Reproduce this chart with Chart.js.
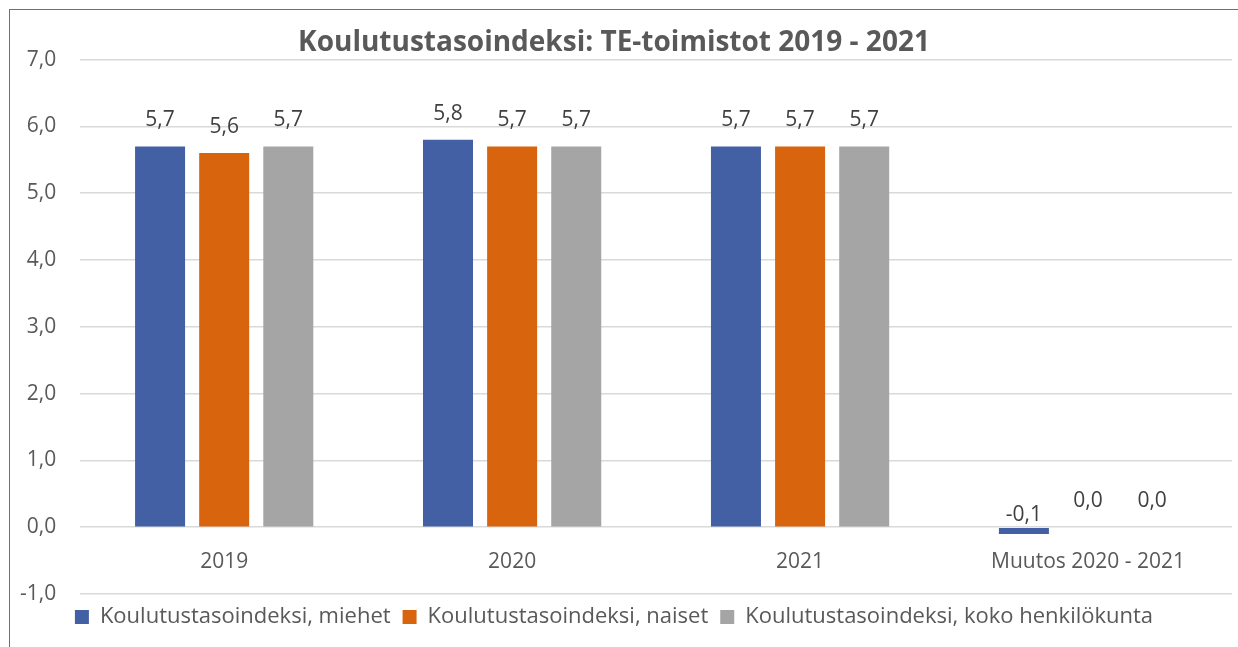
<!DOCTYPE html>
<html>
<head>
<meta charset="utf-8">
<script src="https://cdn.jsdelivr.net/npm/chart.js@4/dist/chart.umd.min.js"></script>
<style>
  html, body { margin: 0; padding: 0; background: #fff; }
  #wrap { position: relative; width: 1238px; height: 647px; }
  #frame { position: absolute; left: 9px; top: 9px; right: 0; bottom: 0; border-left: 1.5px solid #707070; border-top: 1.5px solid #707070; pointer-events: none; }
  canvas { position: absolute; left: 0; top: 0; }
</style>
</head>
<body>
<div id="wrap">
  <canvas id="c" width="1238" height="647"></canvas>
  <div id="frame"></div>
</div>
<script>
const title = 'Koulutustasoindeksi: TE-toimistot 2019 - 2021';
const categories = ['2019', '2020', '2021', 'Muutos 2020 - 2021'];
const seriesNames = ['Koulutustasoindeksi, miehet', 'Koulutustasoindeksi, naiset', 'Koulutustasoindeksi, koko henkilökunta'];
const miehet = [5.7, 5.8, 5.7, -0.1];
const naiset = [5.6, 5.7, 5.7, 0.0];
const koko = [5.7, 5.7, 5.7, 0.0];
const colors = ['#4360A5', '#D9640E', '#A5A5A5'];
const yMin = -1, yMax = 7, yStep = 1;

const FONT = '"Open Sans", sans-serif';
const fmt = v => v.toFixed(1).replace('.', ',');

const labelPlugin = {
  id: 'barLabels',
  afterDatasetsDraw(chart) {
    const ctx = chart.ctx;
    ctx.save();
    ctx.font = '21px ' + FONT;
    ctx.fillStyle = '#404040';
    ctx.textAlign = 'center';
    ctx.textBaseline = 'middle';
    chart.data.datasets.forEach((ds, i) => {
      const meta = chart.getDatasetMeta(i);
      meta.data.forEach((bar, j) => {
        const v = ds.data[j];
        const y = v < 0 ? bar.base - 13 : bar.y - 26;
        ctx.fillText(fmt(v), bar.x, y);
      });
    });
    ctx.restore();
  }
};

new Chart(document.getElementById('c'), {
  type: 'bar',
  data: {
    labels: categories,
    datasets: [
      { label: seriesNames[0], data: miehet, backgroundColor: colors[0] },
      { label: seriesNames[1], data: naiset, backgroundColor: colors[1] },
      { label: seriesNames[2], data: koko, backgroundColor: colors[2] }
    ]
  },
  options: {
    responsive: false,
    animation: false,
    devicePixelRatio: 1,
    layout: { padding: { left: -4, right: 6, top: 14, bottom: 9 } },
    datasets: { bar: { categoryPercentage: 0.668, barPercentage: 0.78 } },
    plugins: {
      title: {
        display: true, text: title, color: '#595959',
        font: { family: FONT, size: 28, weight: 'bold' },
        padding: { top: 12, bottom: 0 }
      },
      legend: {
        position: 'bottom',
        labels: {
          color: '#595959', boxWidth: 14, boxHeight: 14, padding: 12,
          font: { family: FONT, size: 22 }
        }
      },
      tooltip: { enabled: false }
    },
    scales: {
      x: {
        position: { y: 0 },
        grid: { display: false },
        border: { display: false },
        ticks: { color: '#595959', font: { family: FONT, size: 21 }, padding: 14 },
        afterFit(scale) { scale.height = 0; }
      },
      y: {
        min: yMin, max: yMax,
        grid: { color: '#D9D9D9', lineWidth: 1.5, drawTicks: false },
        border: { display: false },
        ticks: { stepSize: yStep, color: '#595959', font: { family: FONT, size: 21 }, padding: 24, callback: v => fmt(v) }
      }
    }
  },
  plugins: [labelPlugin]
});
</script>
</body>
</html>
